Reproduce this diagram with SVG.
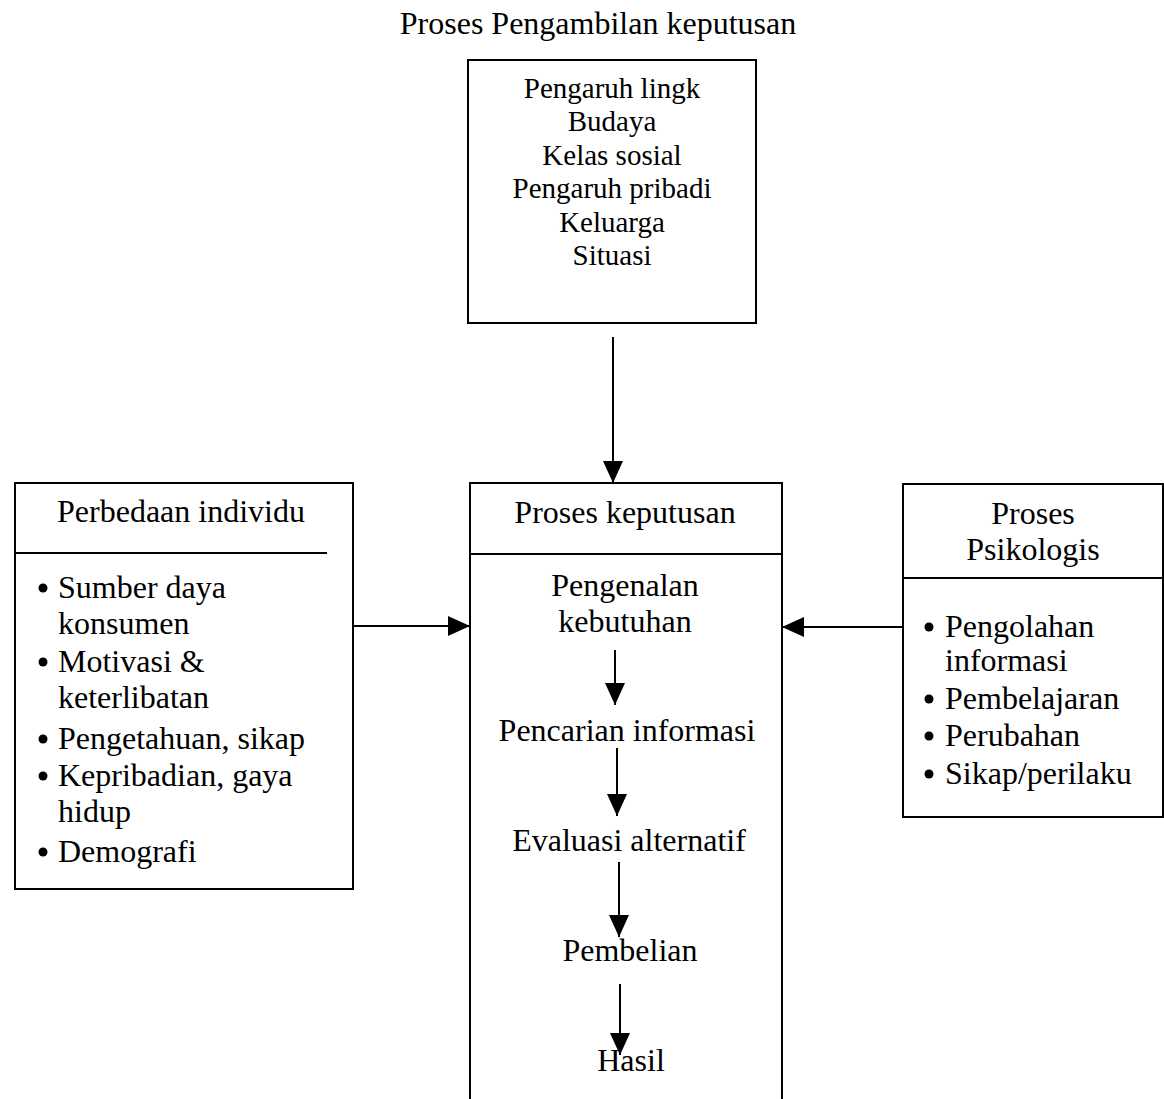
<svg xmlns="http://www.w3.org/2000/svg" width="1164" height="1099" viewBox="0 0 1164 1099">
  <style>
    .box { fill: none; stroke: #000; stroke-width: 2; }
    .rule { stroke: #000; stroke-width: 2; }
    .t { font-family: "Liberation Serif", "Times New Roman", serif; font-size: 32px; fill: #000; }
    .s { font-size: 29px; }
    .c { text-anchor: middle; }
    .edge { stroke: #000; stroke-width: 2; fill: none; marker-end: url(#head); }
    .dot { fill: #000; }
  </style>
  <defs>
    <marker id="head" markerUnits="userSpaceOnUse" markerWidth="22" markerHeight="22" viewBox="0 0 22 22" refX="22" refY="11" orient="auto">
      <path d="M0,1 L22,11 L0,21 Z" fill="#000"/>
    </marker>
  </defs>
  <rect width="1164" height="1099" fill="#fff"/>

  <text class="t c" x="598" y="34">Proses Pengambilan keputusan</text>

  <!-- environmental influences -->
  <g id="pengaruh-lingkungan">
    <rect class="box" x="468" y="60" width="288" height="263"/>
    <text class="t s c" x="612" y="98">Pengaruh lingk</text>
    <text class="t s c" x="612" y="131">Budaya</text>
    <text class="t s c" x="612" y="165">Kelas sosial</text>
    <text class="t s c" x="612" y="198">Pengaruh pribadi</text>
    <text class="t s c" x="612" y="232">Keluarga</text>
    <text class="t s c" x="612" y="265">Situasi</text>
  </g>

  <!-- individual differences -->
  <g id="perbedaan-individu">
    <rect class="box" x="15" y="483" width="338" height="406"/>
    <line class="rule" x1="15" y1="553" x2="327" y2="553"/>
    <text class="t c" x="181" y="522">Perbedaan individu</text>
    <circle class="dot" cx="43" cy="588" r="4.5"/>
    <text class="t" x="58" y="598">Sumber daya</text>
    <text class="t" x="58" y="634">konsumen</text>
    <circle class="dot" cx="43" cy="662" r="4.5"/>
    <text class="t" x="58" y="672">Motivasi &amp;</text>
    <text class="t" x="58" y="708">keterlibatan</text>
    <circle class="dot" cx="43" cy="739" r="4.5"/>
    <text class="t" x="58" y="749">Pengetahuan, sikap</text>
    <circle class="dot" cx="43" cy="776" r="4.5"/>
    <text class="t" x="58" y="786">Kepribadian, gaya</text>
    <text class="t" x="58" y="822">hidup</text>
    <circle class="dot" cx="43" cy="852" r="4.5"/>
    <text class="t" x="58" y="862">Demografi</text>
  </g>

  <!-- decision process (open at the bottom) -->
  <g id="proses-keputusan">
    <path class="box" d="M470,1099 L470,483 L782,483 L782,1099"/>
    <line class="rule" x1="470" y1="554" x2="782" y2="554"/>
    <text class="t c" x="625" y="523">Proses keputusan</text>
    <text class="t c" x="625" y="596">Pengenalan</text>
    <text class="t c" x="625" y="632">kebutuhan</text>
    <text class="t c" x="627" y="741">Pencarian informasi</text>
    <text class="t c" x="629" y="851">Evaluasi alternatif</text>
    <text class="t c" x="630" y="961">Pembelian</text>
    <text class="t c" x="631" y="1071">Hasil</text>
  </g>

  <!-- psychological processes -->
  <g id="proses-psikologis">
    <rect class="box" x="903" y="484" width="260" height="333"/>
    <line class="rule" x1="903" y1="578" x2="1163" y2="578"/>
    <text class="t c" x="1033" y="524">Proses</text>
    <text class="t c" x="1033" y="560">Psikologis</text>
    <circle class="dot" cx="929" cy="627" r="4.5"/>
    <text class="t" x="945" y="637">Pengolahan</text>
    <text class="t" x="945" y="671">informasi</text>
    <circle class="dot" cx="929" cy="699" r="4.5"/>
    <text class="t" x="945" y="709">Pembelajaran</text>
    <circle class="dot" cx="929" cy="736" r="4.5"/>
    <text class="t" x="945" y="746">Perubahan</text>
    <circle class="dot" cx="929" cy="774" r="4.5"/>
    <text class="t" x="945" y="784">Sikap/perilaku</text>
  </g>

  <g id="connectors">
    <line class="edge" x1="613" y1="337" x2="613" y2="483"/>
    <line class="edge" x1="353" y1="626" x2="470" y2="626"/>
    <line class="edge" x1="903" y1="627" x2="782" y2="627"/>
    <line class="edge" x1="615" y1="650" x2="615" y2="705"/>
    <line class="edge" x1="617" y1="748" x2="617" y2="816"/>
    <line class="edge" x1="619" y1="862" x2="619" y2="937"/>
    <line class="edge" x1="620" y1="984" x2="620" y2="1055"/>
  </g>
</svg>
